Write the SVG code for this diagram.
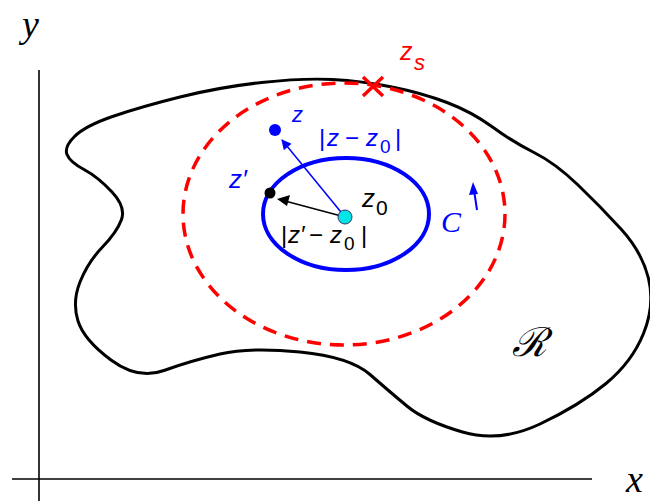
<svg xmlns="http://www.w3.org/2000/svg" width="650" height="501" viewBox="0 0 650 501">
<defs>
<style>
.ax{stroke:#000;stroke-width:1.6;fill:none}
.blob{stroke:#000;stroke-width:3;fill:none}
.math{font-family:"Liberation Sans",Arial,sans-serif}
.it{font-style:italic}
.up{font-style:normal}
.serif{font-family:"Liberation Serif","Times New Roman",serif;font-style:italic}
.blue{fill:#0000ff}
.blk{fill:#000}
.red{fill:#ff0000}
</style>
<marker id="ahB" viewBox="0 0 10 10" refX="9" refY="5" markerWidth="12" markerHeight="10" orient="auto" markerUnits="userSpaceOnUse">
<path d="M0,0 L10,5 L0,10 z" fill="#0000ff"/>
</marker>
</defs>
<g id="axes">
<line class="ax" x1="39" y1="70" x2="39" y2="501"/>
<line class="ax" x1="12" y1="479" x2="592" y2="479"/>
<text class="serif blk" x="22" y="37" font-size="38">y</text>
<text class="serif blk" x="626" y="492" font-size="38">x</text>
</g>
<g id="region">
<path class="blob" d="M67,154.5 Q64,147 74.5,136.5 Q85,126 112.5,116.5 Q140,107 180,97 Q220,87 261.5,82.5 Q303,78 332.5,79.5 Q362,81 392,87 Q422,93 447,102.5 Q472,112 492.5,127 Q513,142 534,152.5 Q555,163 577.5,184.5 Q600,206 621,229 Q642,252 648.5,278.5 Q655,305 643.5,333.5 Q632,362 606,383.5 Q580,405 540,424 Q500,443 462.5,432 Q425,421 407.5,406.5 Q390,392 370,374.5 Q350,357 300,352 Q250,347 220,354 Q190,361 164,370.5 Q138,380 111,360 Q84,340 78,321 Q72,302 80,282 Q88,262 102.5,247 Q117,232 121.5,219.5 Q126,207 112,192 Q98,177 84,169.5 Q70,162 67,154.5 Z"/>
<text x="512" y="356" font-family="DejaVu Serif,serif" font-style="italic" font-size="40" class="blk">ℛ</text>
</g>
<g id="circle-rs">
<ellipse cx="344" cy="214" rx="161" ry="131" fill="none" stroke="#ff0000" stroke-width="3.5" stroke-dasharray="14 9"/>
</g>
<g id="contour-c">
<ellipse cx="346" cy="214" rx="83" ry="56" fill="none" stroke="#0000ff" stroke-width="4"/>
<text class="serif blue" x="441" y="232" font-size="30">C</text>
</g>
<g id="connectors">
<line x1="345" y1="217" x2="282" y2="140" stroke="#0000ff" stroke-width="1.5" marker-end="url(#ahB)"/>
<line x1="345" y1="217" x2="285" y2="201" stroke="#000" stroke-width="1.5"/>
<path d="M277,199 L290,195 L287,206 z" fill="#000"/>
<line x1="477" y1="210" x2="474" y2="190" stroke="#0000ff" stroke-width="2"/>
<path d="M473,182 L469,195 L478,194 z" fill="#0000ff"/>
</g>
<g id="node-zs">
<path d="M363,77 L383,96 M383,77 L363,96" stroke="#ff0000" stroke-width="3.5" fill="none"/>
<text class="math it red" x="400" y="60" font-size="25">z<tspan x="414" y="70" font-size="22">s</tspan></text>
</g>
<g id="node-z">
<circle cx="275" cy="130" r="6" fill="#0000ff"/>
<text class="math it blue" x="292" y="122" font-size="22">z</text>
<text class="math up blue" font-size="24" y="146"><tspan x="319">|</tspan><tspan class="it" x="327">z</tspan><tspan x="345">−</tspan><tspan class="it" x="366">z</tspan><tspan x="380" y="153" font-size="19">0</tspan><tspan x="395" y="146">|</tspan></text>
</g>
<g id="node-zprime">
<circle cx="270" cy="193" r="5.5" fill="#000"/>
<text class="math it blue" x="229" y="188" font-size="26">z′</text>
<text class="math up blk" font-size="24" y="243"><tspan x="281">|</tspan><tspan class="it" x="288">z′</tspan><tspan x="309">−</tspan><tspan class="it" x="330">z</tspan><tspan x="344" y="250" font-size="19">0</tspan><tspan x="361" y="243">|</tspan></text>
</g>
<g id="node-z0">
<circle cx="345" cy="217" r="7" fill="#00e5e5" stroke="#336" stroke-width="1"/>
<text class="math it blk" x="362" y="207" font-size="26">z<tspan class="up" x="376" y="215" font-size="21">0</tspan></text>
</g>
</svg>
